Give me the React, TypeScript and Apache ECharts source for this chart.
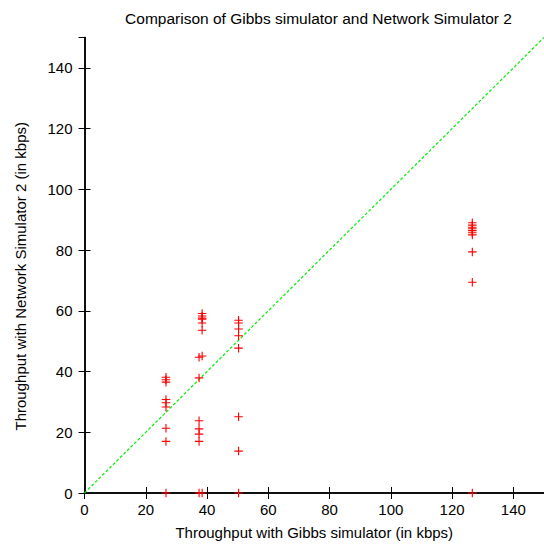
import React, { useEffect, useRef } from "react";
import * as echarts from "echarts";

// Data (Gibbs throughput x, NS2 throughput y), in kbps
const cluster1X = 26.6;
const cluster1Y = [38.1, 37.3, 36.5, 30.8, 29.7, 28.3, 21.3, 17.0, 0];

const cluster2aX = 38.4;
const cluster2aY = [59.1, 58.3, 57.6, 57.2, 56.0, 53.6, 45.1, 0];
const cluster2bX = 37.4;
const cluster2bY = [44.7, 37.9, 23.8, 21.1, 19.4, 17.0, 0];

const cluster3X = 50.3;
const cluster3Y = [56.9, 56.0, 54.0, 51.8, 47.7, 25.1, 13.8, 0];

const cluster4X = 126.6;
const cluster4Y = [89.0, 88.2, 87.5, 87.0, 86.4, 85.7, 85.0, 79.4, 69.4, 0];

const diagonal = [
  [0, 0],
  [150, 150],
];

const xTicks = [0, 20, 40, 60, 80, 100, 120, 140];

const FONT = "Liberation Sans";

const plusSymbol = "path://M0,4.35H10V5.65H0Z M4.35,0H5.65V10H4.35Z";

export default function App() {
  const ref = useRef<HTMLDivElement>(null);
  useEffect(() => {
    if (!ref.current) return;
    const chart = echarts.init(ref.current, undefined, { renderer: "svg" });
    const points: number[][] = [];
    const add = (x: number, ys: number[]) => ys.forEach((y) => points.push([x, y]));
    add(cluster1X, cluster1Y);
    add(cluster2aX, cluster2aY);
    add(cluster2bX, cluster2bY);
    add(cluster3X, cluster3Y);
    add(cluster4X, cluster4Y);

    const axisCommon = {
      min: 0,
      max: 150,
      interval: 20,
      axisLine: { show: true, lineStyle: { color: "#000", width: 1.5 } },
      axisTick: { show: true, inside: true, length: 6, lineStyle: { color: "#000", width: 1 } },
      splitLine: { show: false },
    };

    chart.setOption({
      animation: false,
      backgroundColor: "#fff",
      title: {
        text: "Comparison of Gibbs simulator and Network Simulator 2",
        left: 313.5,
        textAlign: "center",
        top: 5,
        textStyle: { fontFamily: FONT, fontSize: 15.5, fontWeight: "normal", color: "#000" },
      },
      grid: { left: 84.5, top: 37.5, width: 460.5, height: 460.5 },
      xAxis: [
        {
          ...axisCommon,
          type: "value",
          position: "bottom",
          name: "Throughput with Gibbs simulator (in kbps)",
          nameLocation: "middle",
          nameGap: 32,
          nameTextStyle: { fontFamily: FONT, fontSize: 15, color: "#000" },
          axisLabel: {
            fontFamily: FONT,
            fontSize: 15,
            color: "#000",
            margin: 9,
            showMaxLabel: false,
            formatter: (v: number) => (xTicks.includes(v) ? String(v) : ""),
          },
        },
        {
          ...axisCommon,
          type: "value",
          position: "top",
          axisLabel: { show: false },
        },
      ],
      yAxis: [
        {
          ...axisCommon,
          type: "value",
          position: "left",
          name: "Throughput with Network Simulator 2 (in kbps)",
          nameLocation: "middle",
          nameGap: 57,
          nameRotate: 90,
          nameTextStyle: {
            fontFamily: FONT,
            fontSize: 15,
            color: "#000",
            padding: [0, 22, 0, 0],
          },
          axisLabel: {
            fontFamily: FONT,
            fontSize: 15,
            color: "#000",
            margin: 12,
            showMaxLabel: false,
            formatter: (v: number) => (xTicks.includes(v) ? String(v) : ""),
          },
        },
        {
          ...axisCommon,
          type: "value",
          position: "right",
          axisLabel: { show: false },
        },
      ],
      series: [
        {
          type: "line",
          data: diagonal,
          symbol: "none",
          lineStyle: { color: "#00ee00", width: 1.2, type: [3, 2] },
          z: 2,
          silent: true,
        },
        {
          type: "scatter",
          data: points,
          symbol: plusSymbol,
          symbolSize: 8.5,
          itemStyle: { color: "#ff0000", opacity: 1 },
          clip: false,
          z: 5,
        },
      ],
    });
    return () => chart.dispose();
  }, []);
  return (
    <div
      ref={ref}
      style={{ position: "fixed", left: 0, top: 0, width: 544, height: 545, background: "#fff" }}
    />
  );
}
